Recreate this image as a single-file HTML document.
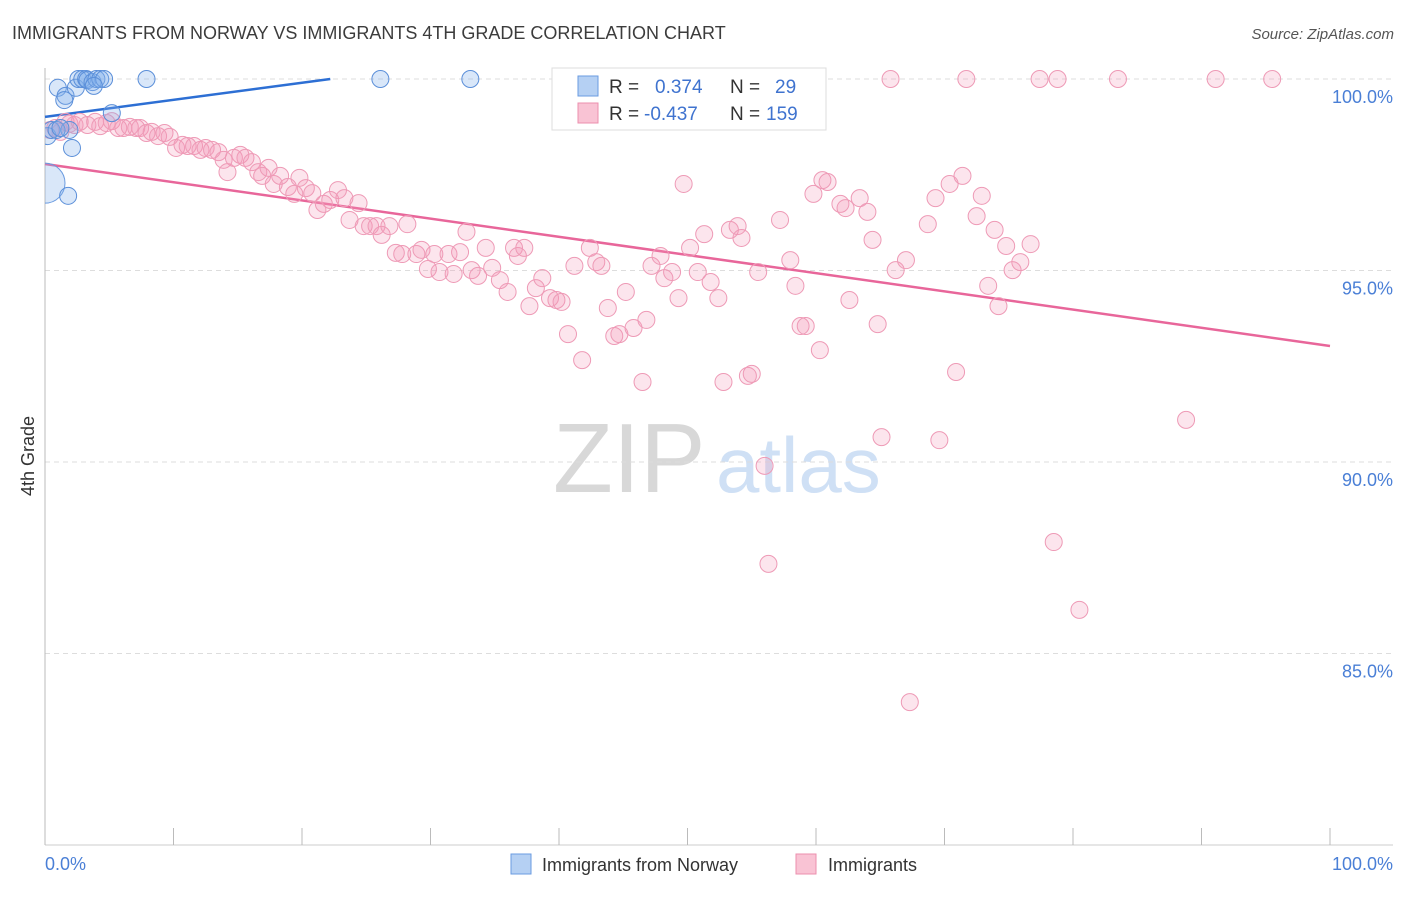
<!DOCTYPE html>
<html><head><meta charset="utf-8"><style>
body{margin:0;background:#fff;font-family:"Liberation Sans",sans-serif}
svg text{font-family:"Liberation Sans",sans-serif}
</style></head><body>
<svg width="1406" height="892" viewBox="0 0 1406 892" xmlns="http://www.w3.org/2000/svg">
<defs><clipPath id="plotclip"><rect x="45" y="55" width="1360" height="790"/></clipPath></defs>
<text x="12" y="39" font-size="18" fill="#3c3c3c">IMMIGRANTS FROM NORWAY VS IMMIGRANTS 4TH GRADE CORRELATION CHART</text>
<text x="1394" y="39" font-size="15" fill="#555" text-anchor="end" font-style="italic">Source: ZipAtlas.com</text>
<g>
<text x="553" y="492" font-size="98" fill="#d8d8d8" font-family="Liberation Serif,serif">ZIP</text>
<text x="716" y="492" font-size="78" fill="#cfe0f5">atlas</text>
</g>
<g id="grid"></g>
<g id="axes"></g>
<g id="lines"></g>
<g id="pts" clip-path="url(#plotclip)"></g>
<text transform="translate(34,456) rotate(-90)" font-size="18" fill="#333" text-anchor="middle">4th Grade</text>
<text x="45" y="870" font-size="18" fill="#4a7fd6">0.0%</text>
<text x="1393" y="870" font-size="18" fill="#4a7fd6" text-anchor="end">100.0%</text>
<g>
<rect x="552" y="68" width="274" height="62" fill="#fff" stroke="#ddd"/>
<rect x="578" y="76" width="20" height="20" fill="#b5d0f3" stroke="#6a9be0"/>
<rect x="578" y="103" width="20" height="20" fill="#f9c3d4" stroke="#ec8fae"/>
<text x="609" y="93" font-size="19" fill="#333">R =</text>
<text x="655" y="93" font-size="19" fill="#3f73cf">0.374</text>
<text x="730" y="93" font-size="19" fill="#333">N =</text>
<text x="775" y="93" font-size="19" fill="#3f73cf">29</text>
<text x="609" y="120" font-size="19" fill="#333">R =</text>
<text x="644" y="120" font-size="19" fill="#3f73cf">-0.437</text>
<text x="730" y="120" font-size="19" fill="#333">N =</text>
<text x="766" y="120" font-size="19" fill="#3f73cf">159</text>
</g>
<g>
<rect x="511" y="854" width="20" height="20" fill="#b5d0f3" stroke="#6a9be0"/>
<text x="542" y="871" font-size="18" fill="#333">Immigrants from Norway</text>
<rect x="796" y="854" width="20" height="20" fill="#f9c3d4" stroke="#ec8fae"/>
<text x="828" y="871" font-size="18" fill="#333">Immigrants</text>
</g>
</svg>
<script>
const yTicks=[100,95,90,85];
const yTickLabels=["100.0%","95.0%","90.0%","85.0%"];
const xTicks=[0,10,20,30,40,50,60,70,80,90,100];
const pinkX=[0.4,0.8,1.2,1.6,1.9,2.3,2.7,3.3,3.9,4.3,4.8,5.2,5.7,6.1,6.6,7.1,7.4,7.9,8.3,8.8,9.3,9.7,10.2,10.7,11.1,11.6,12.1,12.5,13.0,13.5,13.9,14.2,14.7,15.2,15.6,16.1,16.6,16.9,17.4,17.8,18.3,18.9,19.4,19.8,20.3,20.8,21.2,21.7,22.2,22.8,23.3,23.7,24.4,24.8,25.3,25.8,26.2,26.8,27.3,27.8,28.2,28.9,29.3,29.8,30.3,30.7,31.4,31.8,32.3,32.8,33.2,33.7,34.3,34.8,35.4,36.0,36.5,36.8,37.3,37.7,38.2,38.7,39.3,39.8,40.2,40.7,41.2,41.8,42.4,42.9,43.3,43.8,44.3,44.7,45.2,45.8,46.5,46.8,47.2,47.9,48.2,48.8,49.3,49.7,50.2,50.8,51.3,51.8,52.4,52.8,53.3,53.9,54.2,54.7,55.0,55.5,56.0,56.3,57.2,58.0,58.4,58.8,59.2,59.8,60.3,60.5,60.9,61.9,62.3,62.6,63.4,64.0,64.4,64.8,65.1,65.8,66.2,67.0,67.3,68.7,69.3,69.6,70.4,70.9,71.4,71.7,72.5,72.9,73.4,73.9,74.2,74.8,75.3,75.9,76.7,77.4,78.5,78.8,80.5,83.5,88.8,91.1,95.5];
const pinkY=[98.67,98.72,98.62,98.88,98.83,98.8,98.88,98.8,98.88,98.77,98.85,98.9,98.72,98.72,98.75,98.72,98.72,98.59,98.62,98.51,98.59,98.49,98.2,98.28,98.25,98.25,98.15,98.2,98.15,98.09,97.89,97.57,97.94,98.02,97.94,97.83,97.57,97.47,97.68,97.26,97.47,97.18,97.0,97.42,97.15,97.02,96.58,96.74,96.84,97.1,96.89,96.32,96.76,96.16,96.16,96.16,95.93,96.16,95.46,95.43,96.21,95.43,95.54,95.04,95.43,94.96,95.43,94.91,95.48,96.01,95.01,94.86,95.59,95.07,94.75,94.44,95.59,95.38,95.59,94.07,94.54,94.8,94.28,94.23,94.18,93.34,95.12,92.66,95.59,95.22,95.12,94.02,93.29,93.34,94.44,93.5,92.09,93.71,95.12,95.38,94.8,94.96,94.28,97.26,95.59,94.96,95.95,94.7,94.28,92.09,96.06,96.16,95.85,92.25,92.3,94.96,89.9,87.34,96.32,95.27,94.6,93.55,93.55,97.0,92.92,97.36,97.31,96.74,96.63,94.23,96.89,96.53,95.8,93.6,90.65,100,95.01,95.27,83.73,96.21,96.89,90.57,97.26,92.35,97.47,100,96.42,96.95,94.6,96.06,94.07,95.64,95.01,95.22,95.69,100,87.91,100,86.14,100,91.1,100,100];
const blueX=[0.2,0.5,1.0,1.6,1.9,2.1,1.8,2.4,2.6,2.9,3.2,3.3,3.7,4.0,4.3,4.6,5.2,7.9,26.1,33.1,1.5,0.9,1.2,3.8];
const blueY=[98.51,98.67,99.77,99.56,98.67,98.2,96.95,99.77,100,100,100,99.97,99.92,100,100,100,99.11,100,100,100,99.45,98.67,98.72,99.82];
const bigBlue=[0,97.28];
const blueTrend=[[0,99.01],[22.2,100]];
const pinkTrend=[[0,97.78],[100,93.03]];
const NS="http://www.w3.org/2000/svg";
const X=v=>45+v*12.85, Y=v=>79+(100-v)*38.3;
function mk(t,a,p){const e=document.createElementNS(NS,t);for(const k in a)e.setAttribute(k,a[k]);document.getElementById(p).appendChild(e);return e;}
yTicks.forEach((t,i)=>{
 const l=mk('line',{x1:45,x2:1393,y1:Y(t),y2:Y(t),stroke:'#ddd','stroke-dasharray':'5,4'},'grid');
 
 
 const tx=mk('text',{x:1393,y:Y(t)+24,'font-size':18,fill:'#4a7fd6','text-anchor':'end'},'grid');
 tx.textContent=yTickLabels[i];
 
 
});
const ya=mk('line',{x1:45,x2:45,y1:68,y2:845,stroke:'#bbb'},'axes');


const xa=mk('line',{x1:45,x2:1393,y1:845,y2:845,stroke:'#ccc'},'axes');


xTicks.forEach(t=>{
 const l=mk('line',{x1:X(t),x2:X(t),y1:828,y2:845,stroke:'#bbb'},'axes');
 
 
});
const bt=mk('line',{x1:X(blueTrend[0][0]),y1:Y(blueTrend[0][1]),x2:X(blueTrend[1][0]),y2:Y(blueTrend[1][1]),stroke:'#2d6fd4','stroke-width':2.5},'lines');


const pt=mk('line',{x1:X(pinkTrend[0][0]),y1:Y(pinkTrend[0][1]),x2:X(pinkTrend[1][0]),y2:Y(pinkTrend[1][1]),stroke:'#e8669a','stroke-width':2.5},'lines');


pinkX.forEach((x,i)=>{
 const c=mk('circle',{cx:X(x),cy:Y(pinkY[i]),r:8.5,fill:'rgba(244,150,182,0.25)',stroke:'#ee9ab6','stroke-width':1},'pts');
 
 
});
const bb=mk('circle',{cx:X(bigBlue[0]),cy:Y(bigBlue[1]),r:20,fill:'rgba(130,175,235,0.3)',stroke:'#6a9be0','stroke-width':1},'pts');


blueX.forEach((x,i)=>{
 const c=mk('circle',{cx:X(x),cy:Y(blueY[i]),r:8.5,fill:'rgba(130,175,235,0.3)',stroke:'#5b8fd9','stroke-width':1},'pts');
 
 
});
</script>
</body></html>
